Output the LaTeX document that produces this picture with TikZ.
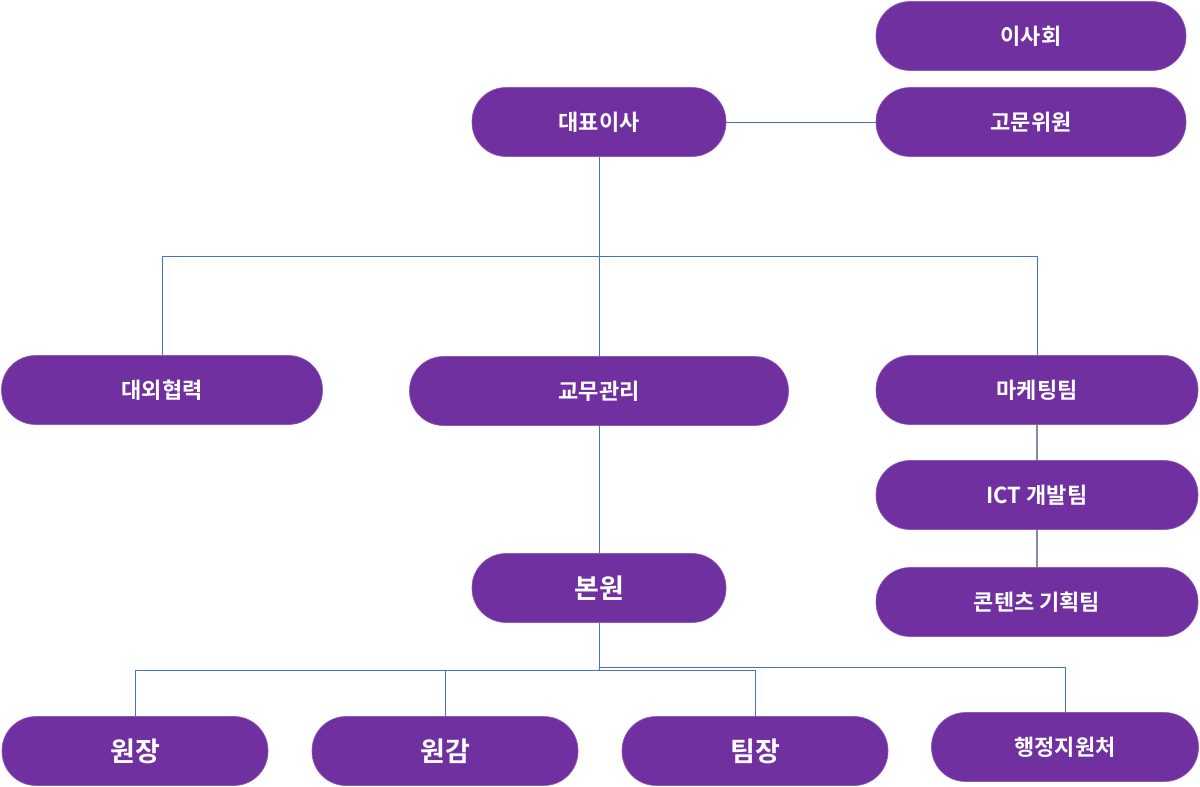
\documentclass[tikz,border=0pt]{standalone}
\usepackage{fontspec}
\newfontfamily\kr{Noto Sans CJK KR}[BoldFont={* Bold}]
\definecolor{boxpurple}{HTML}{7030A0}
\definecolor{lineblue}{HTML}{4472C4}
\definecolor{linegray}{HTML}{7F8CA8}
\begin{document}
\begin{tikzpicture}[x=1pt,y=-1pt,
  pill/.style={fill=boxpurple,draw=boxpurple!80!white,line width=0.6pt,rounded corners=34pt,
    minimum height=69pt,inner sep=0pt,text=white,font=\kr\bfseries\fontsize{22}{26}\selectfont},
  big/.style={font=\kr\bfseries\fontsize{27}{31}\selectfont},
  conn/.style={draw=lineblue,line width=0.9pt},
  conng/.style={draw=linegray,line width=1.3pt}]
\useasboundingbox (0,0) rectangle (1200,787);
\node[pill,minimum width=310pt] (isa) at (1031,36) {이사회};
\node[pill,minimum width=310pt] (gomun) at (1031,122) {고문위원};
\node[pill,minimum width=254pt] (ceo) at (599,122) {대표이사};
\node[pill,minimum width=321pt] (daeoe) at (162,390) {대외협력};
\node[pill,minimum width=379pt] (gyomu) at (599,391) {교무관리};
\node[pill,minimum width=322pt] (mkt) at (1037,390) {마케팅팀};
\node[pill,minimum width=322pt] (ict) at (1037,495) {ICT 개발팀};
\node[pill,minimum width=322pt] (cont) at (1037,602) {콘텐츠 기획팀};
\node[pill,big,minimum width=254pt] (bonwon) at (599,588) {본원};
\node[pill,big,minimum width=266pt] (wonjang) at (135,751) {원장};
\node[pill,big,minimum width=266pt] (wongam) at (445,751) {원감};
\node[pill,big,minimum width=266pt] (timjang) at (755,751) {팀장};
\node[pill,minimum width=267pt] (haeng) at (1065,747) {행정지원처};

\coordinate (hub) at (599,256);
\coordinate (hubL) at (599,670);
\coordinate (hubR) at (599,667);
\draw[conn] (ceo.east) -- (gomun.west);
\draw[conn] (ceo.south) -- (hub) -| (daeoe.north);
\draw[conn] (hub) -| (mkt.north);
\draw[conn] (hub) -- (gyomu.north);
\draw[conn] (gyomu.south) -- (bonwon.north);
\draw[conn] (bonwon.south) -- (hubL) -| (wonjang.north);
\draw[conn] (hubL) -| (wongam.north);
\draw[conn] (hubL) -| (timjang.north);
\draw[conn] (hubR) -| (haeng.north);
\draw[conng] (mkt.south) -- (ict.north);
\draw[conng] (ict.south) -- (cont.north);
\end{tikzpicture}
\end{document}
